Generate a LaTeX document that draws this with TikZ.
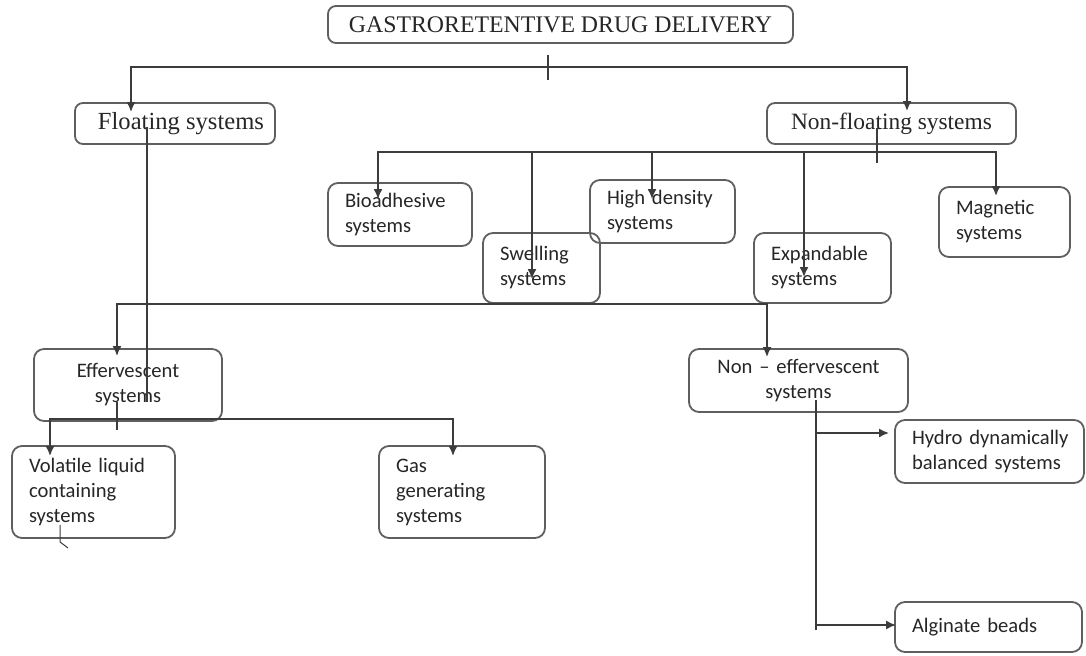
\documentclass[tikz,border=0pt]{standalone}
\usepackage{fontspec}
\setmainfont{Liberation Serif}
\newfontfamily\calfont{Carlito}
\usepackage{tikz}
\usetikzlibrary{arrows.meta}
\definecolor{edge}{RGB}{60, 60, 60}
\definecolor{rim}{RGB}{95, 95, 95}

\begin{document}
\begin{tikzpicture}[
    x=0.5pt, y=-0.5pt,
    headbox/.style={rectangle, draw=rim, line width=0.9pt, rounded corners=4pt, align=center, inner sep=0pt, font=\fontsize{11.7}{14}\selectfont, text=black!85},
    sysbox/.style={rectangle, draw=rim, line width=0.9pt, rounded corners=5pt, align=left, inner xsep=8.5pt, inner ysep=0pt, font=\calfont\fontsize{10.3}{12.5}\selectfont, text=black!85},
    midbox/.style={sysbox, align=center},
    line/.style={line width=0.9pt, color=edge},
    arrow/.style={line, ->, >={Latex[length=5pt,width=4.5pt]}}
]
\useasboundingbox (0,0) rectangle (1086,656);

% top levels
\node[headbox, minimum width=232.5pt, minimum height=18.5pt, font=\fontsize{11.9}{14}\selectfont] (gastro) at (560.5,24.5) {GASTRORETENTIVE DRUG DELIVERY};
\node[headbox, minimum width=100pt, minimum height=20.5pt, font=\fontsize{12.3}{14}\selectfont] (floating) at (175,123.5) {\hspace*{6pt}Floating systems};
\node[headbox, minimum width=124.5pt, minimum height=20.5pt] (nonfloat) at (891.5,123.5) {Non-floating systems};

% non-floating branch
\node[sysbox, text width=55pt, minimum height=31.5pt] (bioadh) at (400,214.5) {Bioadhesive\\systems};
\node[sysbox, text width=41.5pt, minimum height=35pt] (swelling) at (541.5,268) {Swelling\\systems};
\node[sysbox, text width=55.5pt, minimum height=31.5pt] (highdens) at (662.5,211.5) {High density\\systems};
\node[sysbox, text width=51.5pt, minimum height=35pt] (expand) at (822.5,268) {Expandable\\systems};
\node[sysbox, text width=48.5pt, minimum height=35pt] (magnetic) at (1004.5,222) {Magnetic\\systems};

% floating branch
\node[midbox, text width=77pt, minimum height=36pt] (effer) at (128,385) {Effervescent\\systems};
\node[midbox, text width=92.5pt, minimum height=31.5pt] (noneff) at (798.5,380.5) {Non – effervescent\\systems};
\node[sysbox, text width=64.5pt, minimum height=46pt] (volatile) at (93.5,492) {Volatile liquid\\containing\\systems};
\node[sysbox, text width=66pt, minimum height=46pt] (gas) at (462,492) {Gas\\generating\\systems};
\node[sysbox, text width=77.5pt, minimum height=31.5pt] (hydro) at (989.5,451.5) {\mbox{Hydro dynamically}\\\mbox{balanced systems}};
\node[sysbox, text width=76.5pt, minimum height=25pt] (alginate) at (988.5,627) {Alginate beads};

% junctions
\coordinate (tickup) at (548,55);
\coordinate (tickdown) at (548,80);
\coordinate (topbar) at (548,67);
\coordinate (nfbar) at (877,152);
\coordinate (nfstub) at (877,163);
\coordinate (midbar) at (147,304);
\coordinate (efbar) at (117,419);
\coordinate (efstub) at (117,430);
\coordinate (nestub) at (816,630);
\coordinate (nehydro) at (816,433);
\coordinate (nealg) at (816,625);

% first split
\draw[line] (tickup) -- (tickdown);
\draw[arrow] (topbar) -| ([xshift=-22pt,yshift=-5pt]floating.north);
\draw[arrow] (topbar) -| ([xshift=7.75pt,yshift=-4.5pt]nonfloat.north);

% non-floating systems
\draw[line] ([xshift=-7.25pt,yshift=-2.25pt]nonfloat.center) -- (nfstub);
\draw[arrow] (nfbar) -| ([xshift=-11pt,yshift=-8.5pt]bioadh.north);
\draw[arrow] (nfbar) -| ([xshift=-4.75pt,yshift=-23.5pt]swelling.north);
\draw[arrow] (nfbar) -| ([xshift=-5.25pt,yshift=-10pt]highdens.north);
\draw[arrow] (nfbar) -| ([xshift=-9.25pt,yshift=-22.5pt]expand.north);
\draw[arrow] (nfbar) -| ([xshift=-4.25pt,yshift=-5pt]magnetic.north);

% floating systems
\draw[line] ([xshift=-14pt,yshift=-1.75pt]floating.center) -- ([xshift=9.5pt,yshift=-8.5pt]effer.center);
\draw[arrow] (midbar) -| ([xshift=-5.5pt,yshift=-4pt]effer.north);
\draw[arrow] (midbar) -| ([xshift=-15.75pt,yshift=-4.5pt]noneff.north);

% effervescent
\draw[line] ([xshift=-5.5pt,yshift=-8.5pt]effer.center) -- (efstub);
\draw[arrow] (efbar) -| ([xshift=-21.75pt,yshift=-5.5pt]volatile.north);
\draw[arrow] (efbar) -| ([xshift=-4.5pt,yshift=-5.5pt]gas.north);
\draw[line, line width=0.5pt] ([xshift=-16.75pt,yshift=-16.5pt]volatile.center) -- ++(0,17) -- ++(8,6);

% non-effervescent
\draw[line] ([xshift=8.75pt,yshift=-9.75pt]noneff.center) -- (nestub);
\draw[arrow] (nehydro) -- ([xshift=-2.5pt,yshift=9.25pt]hydro.west);
\draw[arrow] (nealg) -- ([xshift=1pt,yshift=1pt]alginate.west);
\end{tikzpicture}
\end{document}
